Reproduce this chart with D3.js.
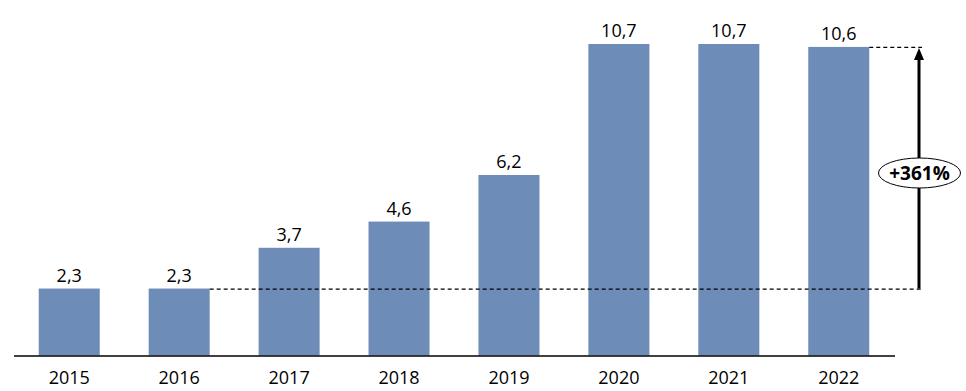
<!DOCTYPE html>
<html>
<head>
<meta charset="utf-8">
<script src="https://cdn.jsdelivr.net/npm/d3@7"></script>
<style>
  body { margin: 0; background: #fff; }
  svg { display: block; font-family: "Open Sans", "DejaVu Sans", sans-serif; }
</style>
</head>
<body>
<svg id="chart" width="966" height="391"></svg>
<script>
// data
var years = ["2015", "2016", "2017", "2018", "2019", "2020", "2021", "2022"];
var values = [2.3, 2.3, 3.7, 4.6, 6.2, 10.7, 10.7, 10.6];
var growthLabel = "+361%";

var svg = d3.select('#chart');

var x = d3.scaleBand().domain(years).range([14, 894]).paddingInner(0.445).paddingOuter(0.225);
var y = d3.scaleLinear().domain([0, 10.7]).range([355.5, 44]);

var fmt = function(v) { return d3.format('.1f')(v).replace('.', ','); };

// bars
svg.selectAll('rect.bar').data(values).enter().append('rect')
    .attr('class', 'bar')
    .attr('x', function(d, i) { return x(years[i]); })
    .attr('y', function(d) { return y(d); })
    .attr('width', x.bandwidth())
    .attr('height', function(d) { return y(0) - y(d); })
    .attr('fill', '#6d8cb8');

// value labels
svg.selectAll('text.val').data(values).enter().append('text')
    .attr('class', 'val')
    .attr('x', function(d, i) { return x(years[i]) + x.bandwidth() / 2; })
    .attr('y', function(d) { return y(d) - 7; })
    .attr('text-anchor', 'middle')
    .attr('font-size', 18)
    .attr('fill', '#000')
    .text(fmt);

// baseline
svg.append('line')
    .attr('x1', 14).attr('x2', 895)
    .attr('y1', y(0) + 0.5).attr('y2', y(0) + 0.5)
    .attr('stroke', '#000').attr('stroke-width', 1.5);

// year labels
svg.selectAll('text.year').data(years).enter().append('text')
    .attr('class', 'year')
    .attr('x', function(d) { return x(d) + x.bandwidth() / 2; })
    .attr('y', 384)
    .attr('text-anchor', 'middle')
    .attr('font-size', 18)
    .attr('fill', '#000')
    .text(function(d) { return d; });

// growth annotation
var first = values[1], last = values[values.length - 1];
var arrowX = 919;
svg.append('line')
    .attr('x1', x(years[1]) + x.bandwidth()).attr('x2', arrowX + 3)
    .attr('y1', y(first) + 0.5).attr('y2', y(first) + 0.5)
    .attr('stroke', '#000').attr('stroke-width', 1.2).attr('stroke-dasharray', '4,3');
svg.append('line')
    .attr('x1', x(years[7]) + x.bandwidth()).attr('x2', arrowX + 3)
    .attr('y1', y(last) + 0.5).attr('y2', y(last) + 0.5)
    .attr('stroke', '#000').attr('stroke-width', 1.2).attr('stroke-dasharray', '4,3');

svg.append('line')
    .attr('x1', arrowX).attr('x2', arrowX)
    .attr('y1', y(first)).attr('y2', y(last) + 12)
    .attr('stroke', '#000').attr('stroke-width', 3);
svg.append('path')
    .attr('d', 'M' + (arrowX - 5) + ',' + (y(last) + 13) + 'L' + arrowX + ',' + (y(last) + 1) + 'L' + (arrowX + 5) + ',' + (y(last) + 13) + 'Z')
    .attr('fill', '#000');

var cy = 173;
svg.append('ellipse')
    .attr('cx', arrowX + 0.5).attr('cy', cy).attr('rx', 41).attr('ry', 15)
    .attr('fill', '#fff').attr('stroke', '#000').attr('stroke-width', 1);
svg.append('text')
    .attr('x', arrowX + 0.5).attr('y', cy + 7)
    .attr('text-anchor', 'middle')
    .attr('font-size', 19).attr('font-weight', 'bold')
    .attr('fill', '#000')
    .text(growthLabel);
</script>
</body>
</html>
